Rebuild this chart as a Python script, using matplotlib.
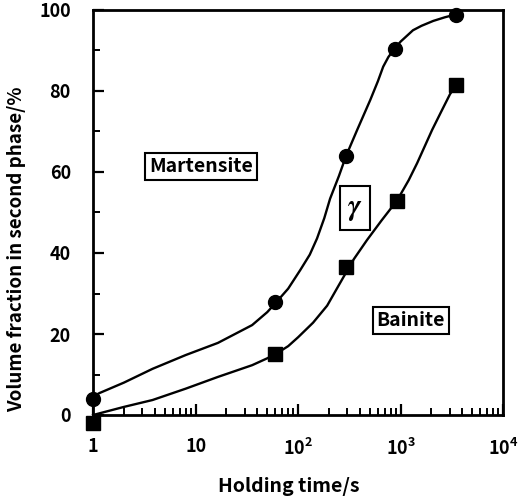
import numpy as np
import matplotlib.pyplot as plt
from matplotlib.ticker import FixedLocator, NullFormatter

plt.rcParams['font.family'] = ['Noto Sans CJK JP', 'DejaVu Sans']
plt.rcParams['font.weight'] = 'bold'
plt.rcParams['axes.labelweight'] = 'bold'
plt.rcParams['mathtext.fontset'] = 'stix'

# Measured points (holding time in s, volume fraction in %)
time_pts = [1, 60, 295, 885, 3450]
upper_pts = [4.0, 27.8, 64.0, 90.4, 98.8]
lower_time_pts = [1, 60, 295, 920, 3450]
lower_pts = [-2.0, 15.0, 36.5, 52.8, 81.5]

# Fitted curves
upper_curve_t = [1, 1.15, 2.0, 3.8, 8, 16.5, 35.6, 50, 60, 80, 105, 130, 153, 180, 205, 250, 294, 377,
                 506, 600, 676, 760, 884, 1000, 1320, 1600, 2080, 2700, 3450]
upper_curve_y = [4.5, 5.4, 8.0, 11.4, 14.8, 17.8, 22.2, 25.4, 27.6, 31.2, 35.8, 39.6, 43.6, 48.6, 53.4,
                 59.0, 64.0, 70.4, 77.8, 82.4, 86.0, 88.4, 90.6, 92.2, 95.0, 96.1, 97.3, 98.2, 98.9]
lower_curve_t = [1, 2.0, 3.8, 8, 16.5, 35.6, 50, 60, 80, 100, 140, 192, 240, 294, 350, 470, 650, 925,
                 1200, 1450, 2030, 2500, 3030, 3450]
lower_curve_y = [0.0, 2.0, 3.7, 6.5, 9.4, 12.3, 14.0, 15.0, 17.0, 19.2, 22.8, 27.0, 31.3, 35.2, 38.5,
                 43.2, 48.0, 53.0, 58.0, 62.2, 70.4, 75.0, 79.2, 81.3]

xticks = [1, 10, 100, 1000, 10000]
xticklabels = ['1', '10', '$\\mathregular{10^2}$', '$\\mathregular{10^3}$', '$\\mathregular{10^4}$']
yticks = [0, 20, 40, 60, 80, 100]

fig = plt.figure(figsize=(5.23, 5.00), dpi=100)
ax = fig.add_axes([0.178, 0.17, 0.784, 0.81])

ax.plot(upper_curve_t, upper_curve_y, color='black', lw=1.7, clip_on=False)
ax.plot(lower_curve_t, lower_curve_y, color='black', lw=1.7, clip_on=False)
ax.plot(time_pts, upper_pts, 'o', color='black', ms=10, clip_on=False, zorder=5)
ax.plot(lower_time_pts, lower_pts, 's', color='black', ms=9.5, clip_on=False, zorder=5)

ax.set_xscale('log')
ax.set_xlim(1, 10000)
ax.set_ylim(0, 100)
ax.set_xticks(xticks)
ax.set_xticklabels(xticklabels)
ax.xaxis.set_minor_locator(FixedLocator([m * 10 ** d for d in range(4) for m in range(2, 10)]))
ax.xaxis.set_minor_formatter(NullFormatter())
ax.set_yticks(yticks)
ax.set_yticks([10, 30, 50, 70, 90], minor=True)

ax.tick_params(which='major', direction='in', length=8, width=1.6, labelsize=13, pad=16)
ax.tick_params(which='minor', direction='in', length=5, width=1.4)
ax.tick_params(axis='x', which='major', pad=16)
for s in ax.spines.values():
    s.set_linewidth(2)

ax.set_xlabel('Holding time/s', fontsize=14)
ax.set_ylabel('Volume fraction in second phase/%', fontsize=13.5)
ax.xaxis.set_label_coords(0.476, -0.152)
ax.yaxis.set_label_coords(-0.163, 0.41)

box = dict(boxstyle='square,pad=0.2', fc='white', ec='black', lw=1.5)
ax.text(11.3, 61.9, 'Martensite', fontsize=14, ha='center', va='center_baseline', bbox=box)
ax.text(360, 51.1, '$\\gamma$', fontsize=21, fontweight='normal', ha='center', va='center',
        bbox=dict(boxstyle='square,pad=0.25', fc='white', ec='black', lw=1.5))
ax.text(1260, 23.8, 'Bainite', fontsize=14, ha='center', va='center_baseline', bbox=box)

fig.savefig('out.png', dpi=100)
